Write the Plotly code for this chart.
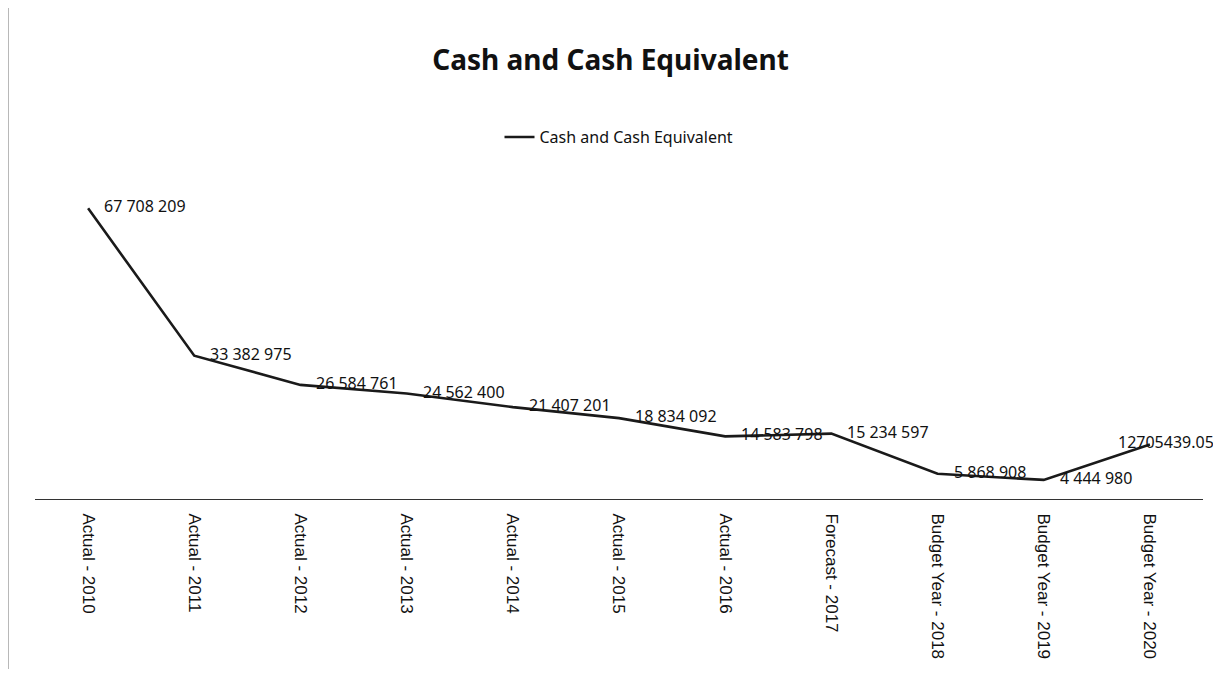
import plotly.graph_objects as go

categories = ["Actual - 2010", "Actual - 2011", "Actual - 2012", "Actual - 2013",
              "Actual - 2014", "Actual - 2015", "Actual - 2016", "Forecast - 2017",
              "Budget Year - 2018", "Budget Year - 2019", "Budget Year - 2020"]
values = [67708209, 33382975, 26584761, 24562400, 21407201, 18834092,
          14583798, 15234597, 5868908, 4444980, 12705439.05]
labels = ["67 708 209", "33 382 975", "26 584 761", "24 562 400", "21 407 201",
          "18 834 092", "14 583 798", "15 234 597", "5 868 908", "4 444 980",
          "12705439.05"]

fig = go.Figure()
fig.add_trace(go.Scatter(
    x=categories, y=values, mode="lines", name="Cash and Cash Equivalent",
    line=dict(color="#1a1a1a", width=2.6),
))

n = len(categories)
for i, (c, v, t) in enumerate(zip(categories, values, labels)):
    last = i == n - 1
    fig.add_annotation(
        x=c, y=v, text=t, showarrow=False,
        xanchor="right" if last else "left", yanchor="middle",
        xshift=66 if last else 14, yshift=2,
        font=dict(family="Noto Sans", size=16, color="#111"),
    )

fig.update_layout(
    width=1205, height=661,
    paper_bgcolor="white", plot_bgcolor="white",
    margin=dict(l=27, r=10, t=139, b=170),
    title=dict(text="<b>Cash and Cash Equivalent</b>", x=0.5, xanchor="center",
               y=0.921, yanchor="middle",
               font=dict(family="Noto Sans", size=28, color="#111")),
    showlegend=True,
    legend=dict(orientation="h", x=0.5, xanchor="center", y=1.028, yanchor="middle",
                font=dict(family="Noto Sans", size=16, color="#111")),
    xaxis=dict(showline=True, linecolor="#333", linewidth=1.2, ticks="",
               tickangle=90, showgrid=False, range=[-0.5, n - 0.5],
               ticklabelstandoff=10,
               tickfont=dict(family="Liberation Sans", size=17, color="#111")),
    yaxis=dict(visible=False, range=[0, 82000000], showgrid=False),
    font=dict(family="Noto Sans"),
)
fig.add_shape(type="line", xref="paper", yref="paper", x0=-0.0231, x1=-0.0231,
              y0=-0.49, y1=1.4, line=dict(color="#777", width=1))

fig.write_html("out.html")
